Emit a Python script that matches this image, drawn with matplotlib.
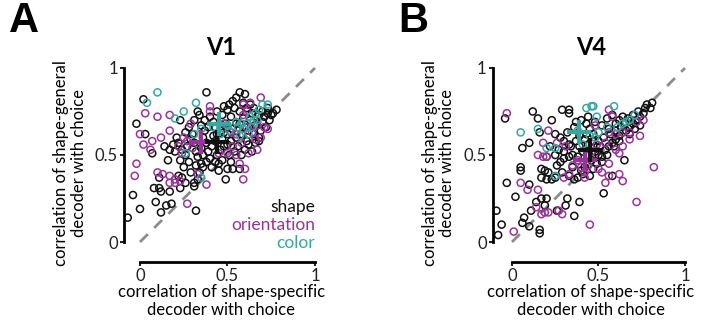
import numpy as np
import matplotlib
matplotlib.use("Agg")
import matplotlib.pyplot as plt

plt.rcParams['font.family'] = ['Lato', 'DejaVu Sans']

BLACK = '#111111'
PURPLE = '#993399'
TEAL = '#3aa6a0'

# V1 points (x = shape-specific, y = shape-general)
v1_shape = [
    (-0.07, 0.14), (-0.04, 0.27), (0.00, 0.19), (-0.02, 0.68), (0.02, 0.82), (0.03, 0.62), (0.07, 0.51),
    (0.08, 0.31), (0.11, 0.31), (0.12, 0.29), (0.11, 0.37), (0.17, 0.29), (0.09, 0.23), (0.15, 0.21),
    (0.18, 0.22), (0.12, 0.17), (0.32, 0.18), (0.22, 0.38), (0.24, 0.37), (0.23, 0.31), (0.26, 0.34),
    (0.25, 0.43), (0.28, 0.46), (0.32, 0.44), (0.35, 0.45), (0.31, 0.34), (0.31, 0.32), (0.33, 0.36),
    (0.29, 0.40), (0.38, 0.86), (0.57, 0.86), (0.60, 0.85), (0.33, 0.75), (0.34, 0.73), (0.23, 0.70),
    (0.48, 0.78), (0.54, 0.77), (0.78, 0.76), (0.75, 0.73), (0.73, 0.74), (0.71, 0.72), (0.68, 0.73),
    (0.14, 0.55), (0.17, 0.53), (0.19, 0.56), (0.21, 0.60), (0.22, 0.57), (0.24, 0.53), (0.26, 0.50),
    (0.27, 0.55), (0.29, 0.59), (0.30, 0.62), (0.31, 0.57), (0.32, 0.52), (0.33, 0.49), (0.35, 0.54),
    (0.36, 0.60), (0.37, 0.64), (0.38, 0.57), (0.39, 0.52), (0.40, 0.48), (0.41, 0.55), (0.42, 0.61),
    (0.43, 0.66), (0.44, 0.50), (0.45, 0.45), (0.46, 0.53), (0.47, 0.59), (0.48, 0.63), (0.49, 0.68),
    (0.50, 0.56), (0.51, 0.50), (0.52, 0.46), (0.53, 0.42), (0.45, 0.41), (0.49, 0.36), (0.57, 0.42),
    (0.50, 0.62), (0.53, 0.65), (0.55, 0.60), (0.56, 0.55), (0.57, 0.68), (0.58, 0.62), (0.59, 0.71),
    (0.60, 0.66), (0.61, 0.58), (0.62, 0.64), (0.63, 0.70), (0.64, 0.74), (0.65, 0.62), (0.66, 0.67),
    (0.67, 0.72), (0.68, 0.60), (0.69, 0.64), (0.70, 0.69), (0.72, 0.66), (0.74, 0.70), (0.76, 0.74),
    (0.68, 0.58), (0.47, 0.73), (0.44, 0.75), (0.50, 0.76), (0.52, 0.72), (0.40, 0.72), (0.42, 0.69),
    (0.37, 0.70), (0.35, 0.67), (0.39, 0.66), (0.43, 0.58), (0.36, 0.50), (0.38, 0.46), (0.34, 0.40),
    (0.36, 0.43), (0.41, 0.43), (0.43, 0.46), (0.47, 0.47), (0.50, 0.42), (0.54, 0.52), (0.58, 0.50),
    (0.60, 0.53), (0.62, 0.56), (0.64, 0.52), (0.66, 0.57), (0.26, 0.63), (0.28, 0.66), (0.31, 0.70),
    (0.20, 0.52), (0.23, 0.47), (0.16, 0.47), (0.44, 0.62), (0.46, 0.64), (0.48, 0.55), (0.52, 0.58),
    (0.55, 0.68), (0.57, 0.75), (0.61, 0.77), (0.63, 0.79), (0.65, 0.77), (0.70, 0.75), (0.73, 0.77),
    (0.59, 0.80), (0.53, 0.81), (0.51, 0.79), (0.55, 0.83),
]
v1_orientation = [
    (-0.02, 0.45), (-0.03, 0.38), (0.10, 0.40), (0.13, 0.39), (0.17, 0.38), (0.20, 0.36), (0.23, 0.35),
    (0.17, 0.34), (0.20, 0.34), (0.33, 0.39), (0.38, 0.33), (0.27, 0.22), (0.59, 0.36), (0.03, 0.74),
    (0.10, 0.72), (0.00, 0.62), (0.07, 0.58), (0.12, 0.60), (0.02, 0.56), (0.06, 0.53), (0.17, 0.64),
    (0.17, 0.73), (0.29, 0.68), (0.40, 0.78), (0.40, 0.75), (0.69, 0.83), (0.59, 0.79), (0.63, 0.80),
    (0.61, 0.75), (0.59, 0.73), (0.25, 0.60), (0.27, 0.58), (0.22, 0.55), (0.24, 0.51), (0.30, 0.54),
    (0.45, 0.51), (0.50, 0.51), (0.55, 0.50), (0.62, 0.51), (0.67, 0.53), (0.60, 0.42), (0.57, 0.45),
    (0.67, 0.67), (0.71, 0.66), (0.73, 0.65), (0.48, 0.68), (0.55, 0.62), (0.61, 0.66), (0.64, 0.63),
    (0.66, 0.59), (0.58, 0.57), (0.53, 0.55), (0.69, 0.60), (0.52, 0.63),
]
v1_color = [
    (0.10, 0.86), (0.04, 0.80), (0.25, 0.75), (0.20, 0.71), (0.32, 0.80), (0.31, 0.62), (0.35, 0.65),
    (0.26, 0.51), (0.35, 0.37), (0.66, 0.74), (0.70, 0.79), (0.73, 0.79), (0.68, 0.76), (0.55, 0.69),
    (0.58, 0.68), (0.61, 0.68), (0.65, 0.70), (0.63, 0.72), (0.67, 0.70), (0.50, 0.67), (0.51, 0.64),
    (0.56, 0.66), (0.59, 0.65), (0.62, 0.62), (0.57, 0.61), (0.64, 0.66), (0.46, 0.62), (0.42, 0.66),
]

# V4 points
v4_shape = [
    (-0.09, 0.18), (-0.06, 0.10), (-0.08, 0.04), (-0.03, 0.34), (0.02, 0.26), (0.05, 0.43), (0.05, 0.41),
    (0.10, 0.33), (0.11, 0.18), (0.07, 0.14), (0.06, 0.11), (0.10, 0.09), (0.16, 0.07), (0.16, 0.05),
    (0.17, 0.25), (0.20, 0.25), (0.19, 0.21), (0.14, 0.23), (0.26, 0.18), (0.31, 0.21), (0.32, 0.25),
    (0.36, 0.15), (0.39, 0.23), (0.53, 0.28), (-0.04, 0.71), (0.12, 0.75), (0.15, 0.71), (0.23, 0.70),
    (0.29, 0.76), (0.33, 0.76), (0.33, 0.74), (0.16, 0.63), (0.10, 0.57), (0.06, 0.54), (0.25, 0.62),
    (0.28, 0.60), (0.32, 0.63), (0.17, 0.42), (0.19, 0.41), (0.21, 0.40), (0.17, 0.37), (0.20, 0.36),
    (0.23, 0.36), (0.25, 0.37), (0.26, 0.44), (0.28, 0.46), (0.30, 0.48), (0.33, 0.49), (0.35, 0.50),
    (0.29, 0.40), (0.33, 0.38), (0.36, 0.36), (0.38, 0.37), (0.40, 0.41), (0.42, 0.43), (0.41, 0.39),
    (0.30, 0.52), (0.34, 0.55), (0.37, 0.58), (0.39, 0.61), (0.42, 0.59), (0.44, 0.56), (0.46, 0.54),
    (0.48, 0.52), (0.50, 0.50), (0.52, 0.49), (0.54, 0.53), (0.56, 0.55), (0.58, 0.57), (0.60, 0.59),
    (0.62, 0.61), (0.64, 0.63), (0.66, 0.64), (0.68, 0.66), (0.70, 0.68), (0.72, 0.70), (0.74, 0.72),
    (0.76, 0.74), (0.78, 0.79), (0.81, 0.80), (0.73, 0.75), (0.70, 0.73), (0.67, 0.71), (0.63, 0.66),
    (0.60, 0.64), (0.57, 0.62), (0.53, 0.60), (0.50, 0.58), (0.47, 0.62), (0.45, 0.65), (0.43, 0.68),
    (0.40, 0.70), (0.37, 0.69), (0.36, 0.66), (0.44, 0.72), (0.48, 0.69), (0.52, 0.67), (0.55, 0.71),
    (0.58, 0.73), (0.62, 0.70), (0.65, 0.68), (0.71, 0.65), (0.74, 0.67), (0.68, 0.62), (0.62, 0.58),
    (0.59, 0.55), (0.55, 0.50), (0.52, 0.46), (0.49, 0.45), (0.46, 0.47), (0.44, 0.50), (0.41, 0.52),
    (0.38, 0.49), (0.65, 0.47), (0.58, 0.38), (0.47, 0.42), (0.33, 0.56), (0.27, 0.53), (0.30, 0.58),
    (0.25, 0.50), (0.22, 0.55), (0.20, 0.49), (0.35, 0.43), (0.45, 0.38), (0.51, 0.55), (0.56, 0.65),
    (0.60, 0.68), (0.64, 0.72), (0.77, 0.77), (0.80, 0.77), (0.69, 0.70), (0.47, 0.58), (0.43, 0.62),
    (0.39, 0.55),
]
v4_orientation = [
    (-0.03, 0.74), (0.01, 0.06), (0.05, 0.34), (0.09, 0.30), (0.15, 0.30), (0.14, 0.20), (0.17, 0.16),
    (0.19, 0.17), (0.21, 0.17), (0.27, 0.18), (0.29, 0.16), (0.45, 0.10), (0.72, 0.23), (0.82, 0.43),
    (0.54, 0.34), (0.56, 0.38), (0.62, 0.39), (0.64, 0.35), (0.50, 0.42), (0.56, 0.45), (0.42, 0.40),
    (0.42, 0.37), (0.30, 0.37), (0.33, 0.39), (0.15, 0.50), (0.18, 0.49), (0.20, 0.49), (0.21, 0.64),
    (0.18, 0.57), (0.26, 0.57), (0.31, 0.55), (0.56, 0.76), (0.58, 0.72), (0.48, 0.67), (0.72, 0.69),
    (0.76, 0.70), (0.74, 0.61), (0.68, 0.59), (0.68, 0.63), (0.64, 0.63), (0.60, 0.62), (0.56, 0.63),
    (0.64, 0.55), (0.60, 0.53), (0.62, 0.51), (0.49, 0.56), (0.54, 0.57), (0.46, 0.52), (0.38, 0.47),
    (0.35, 0.44), (0.44, 0.44), (0.40, 0.43), (0.52, 0.40),
]
v4_color = [
    (0.05, 0.63), (0.15, 0.65), (0.20, 0.54), (0.25, 0.54), (0.25, 0.38), (0.43, 0.77), (0.46, 0.78),
    (0.47, 0.78), (0.59, 0.78), (0.49, 0.72), (0.50, 0.63), (0.55, 0.66), (0.61, 0.66), (0.64, 0.68),
    (0.68, 0.70), (0.71, 0.73), (0.66, 0.69), (0.38, 0.64), (0.45, 0.61), (0.48, 0.60), (0.41, 0.56),
]

# group means (crosses): shape, orientation, color
v1_means = [(0.44, 0.575), (0.35, 0.575), (0.45, 0.68)]
v4_means = [(0.45, 0.53), (0.42, 0.47), (0.39, 0.63)]

ticks = [0, 0.5, 1]
tick_labels = ['0', '0.5', '1']
xlab = 'correlation of shape-specific\ndecoder with choice'
ylab = 'correlation of shape-general\ndecoder with choice'


def panel(ax, shape, orient, color, means, title, xleft):
    ax.plot([0, 1], [0, 1], color='#8c8c8c', lw=2, dashes=(4, 3.2), zorder=1)
    for pts, c in [(shape, BLACK), (orient, PURPLE), (color, TEAL)]:
        p = np.array(pts)
        ax.scatter(p[:, 0], p[:, 1], s=26, facecolors='none', edgecolors=c, linewidths=1.1, zorder=2)
    for (mx, my), c in zip([means[1], means[0], means[2]], [PURPLE, BLACK, TEAL]):
        ax.plot(mx, my, marker='+', ms=17, mew=3, color=c, zorder=4)
    ax.set_xlim(xleft, 1.02)
    ax.set_ylim(-0.115, 1.02)
    for s in ['top', 'right']:
        ax.spines[s].set_visible(False)
    ax.spines['left'].set_bounds(0, 1)
    ax.spines['bottom'].set_bounds(0, 1)
    ax.spines['left'].set_linewidth(2)
    ax.spines['bottom'].set_linewidth(2)
    ax.set_xticks(ticks)
    ax.set_xticklabels(tick_labels)
    ax.set_yticks(ticks)
    ax.set_yticklabels(tick_labels)
    ax.tick_params(length=3, width=1.5, labelsize=12, pad=1.5, colors='#222222')
    ax.set_xlabel(xlab, fontsize=12, labelpad=0, linespacing=1.1)
    ax.set_ylabel(ylab, fontsize=12, labelpad=6, linespacing=1.1)
    ax.set_title(title, fontsize=17, fontweight='bold', pad=7)


fig = plt.figure(figsize=(7.09, 3.25), dpi=100)
axA = fig.add_axes([0.1752, 0.1938, 0.274, 0.6077])
axB = fig.add_axes([0.6953, 0.1938, 0.2757, 0.6077])

panel(axA, v1_shape, v1_orientation, v1_color, v1_means, 'V1', -0.09)
panel(axB, v4_shape, v4_orientation, v4_color, v4_means, 'V4', -0.11)

for txt, c, yy in [('shape', BLACK, 0.20), ('orientation', PURPLE, 0.095), ('color', TEAL, -0.005)]:
    axA.text(1.0, yy, txt, color=c, fontsize=12.5, ha='right', va='center')

fig.text(0.012, 0.935, 'A', fontsize=30, fontweight='bold', family=['Liberation Sans'], va='center')
fig.text(0.562, 0.935, 'B', fontsize=30, fontweight='bold', family=['Liberation Sans'], va='center')

fig.savefig('out.png', dpi=100)
